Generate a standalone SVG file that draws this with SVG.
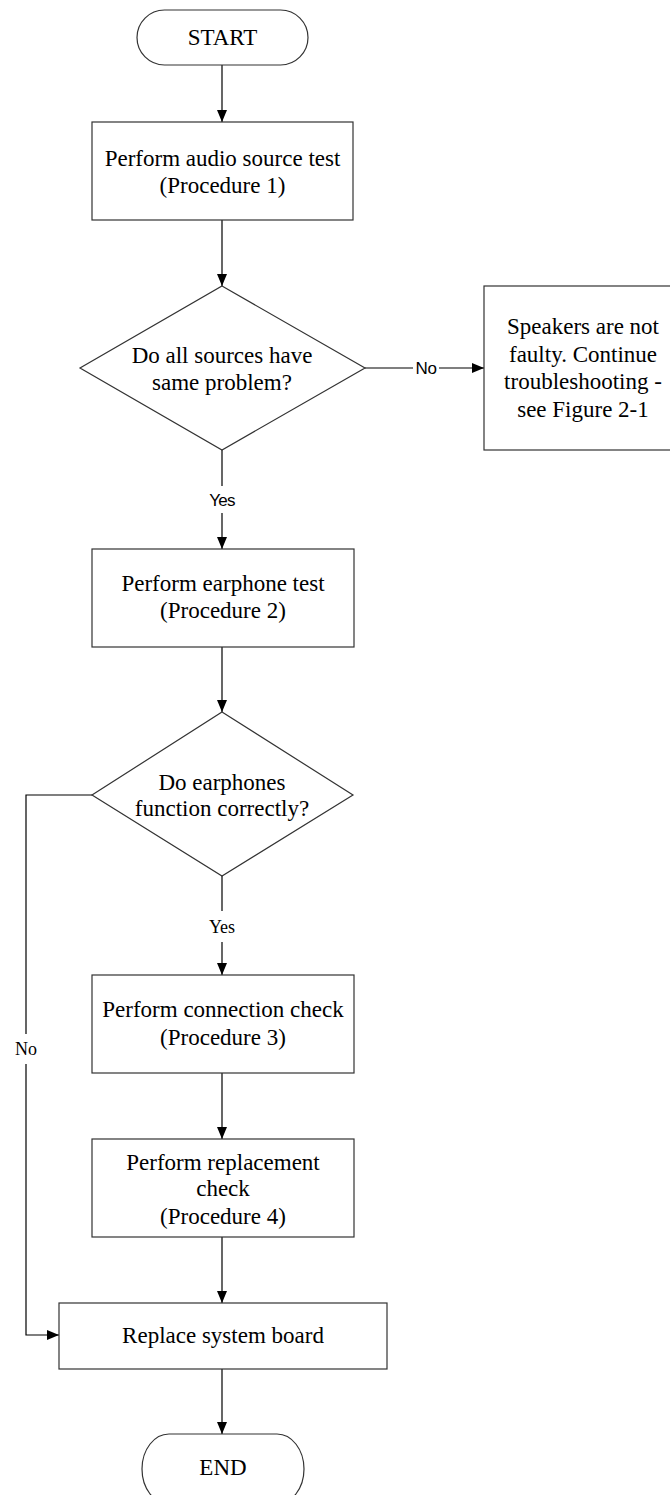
<svg xmlns="http://www.w3.org/2000/svg" width="670" height="1495" viewBox="0 0 670 1495">
  <style>
    .shape { fill: #ffffff; stroke: #333333; stroke-width: 1.2; }
    .conn { fill: none; stroke: #000000; stroke-width: 1.2; }
    .t { font-family: "Liberation Serif", "Times New Roman", serif; font-size: 23px; fill: #000000; text-anchor: middle; }
    .ls { font-family: "Liberation Sans", Arial, sans-serif; font-size: 17px; fill: #000000; text-anchor: middle; letter-spacing: -0.8px; }
    .ln { font-family: "Liberation Sans", Arial, sans-serif; font-size: 17px; fill: #000000; text-anchor: middle; letter-spacing: -0.3px; }
    .lr { font-family: "Liberation Serif", "Times New Roman", serif; font-size: 18px; fill: #000000; text-anchor: middle; }
    .bg { fill: #ffffff; stroke: none; }
  </style>
  <defs>
    <marker id="arrow" markerUnits="userSpaceOnUse" markerWidth="12" markerHeight="10" refX="12" refY="5" orient="auto">
      <path d="M0,0 L12,5 L0,10 z" fill="#000000"/>
    </marker>
  </defs>
  <rect width="670" height="1495" fill="#ffffff"/>

  <g id="connectors">
    <path class="conn" d="M222,65 L222,122" marker-end="url(#arrow)"/>
    <path class="conn" d="M222,220 L222,286" marker-end="url(#arrow)"/>
    <path class="conn" d="M365,368 L484,368" marker-end="url(#arrow)"/>
    <path class="conn" d="M222,450 L222,549" marker-end="url(#arrow)"/>
    <path class="conn" d="M222,647 L222,712" marker-end="url(#arrow)"/>
    <path class="conn" d="M222,876 L222,975" marker-end="url(#arrow)"/>
    <path class="conn" d="M92,795 L26,795 L26,1335 L59,1335" marker-end="url(#arrow)"/>
    <path class="conn" d="M222,1073 L222,1139" marker-end="url(#arrow)"/>
    <path class="conn" d="M222,1237 L222,1303" marker-end="url(#arrow)"/>
    <path class="conn" d="M222,1369 L222,1434" marker-end="url(#arrow)"/>
    <g id="labels">
      <rect class="bg" x="413" y="358" width="26" height="20"/>
      <text class="ln" x="426" y="374">No</text>
      <rect class="bg" x="206" y="486" width="32" height="27"/>
      <text class="ls" x="222" y="506">Yes</text>
      <rect class="bg" x="206" y="911" width="32" height="31"/>
      <text class="lr" x="222" y="933">Yes</text>
      <rect class="bg" x="12" y="1034" width="28" height="30"/>
      <text class="lr" x="26" y="1055">No</text>
    </g>
  </g>

  <g id="start">
    <rect class="shape" x="137" y="10" width="171" height="55" rx="27.5" ry="27.5"/>
    <text class="t" x="222.5" y="45">START</text>
  </g>

  <g id="audio-source-test">
    <rect class="shape" x="92" y="122" width="261" height="98"/>
    <text class="t" x="222.5" y="166">Perform audio source test</text>
    <text class="t" x="222.5" y="193">(Procedure 1)</text>
  </g>

  <g id="all-sources-decision">
    <polygon class="shape" points="222,286 365,368 222,450 80,368"/>
    <text class="t" x="222" y="363">Do all sources have</text>
    <text class="t" x="222" y="390">same problem?</text>
  </g>

  <g id="speakers-not-faulty">
    <rect class="shape" x="484" y="286" width="198" height="164"/>
    <text class="t" x="583" y="334">Speakers are not</text>
    <text class="t" x="583" y="362">faulty. Continue</text>
    <text class="t" x="583" y="389">troubleshooting -</text>
    <text class="t" x="583" y="417">see Figure 2-1</text>
  </g>

  <g id="earphone-test">
    <rect class="shape" x="92" y="549" width="262" height="98"/>
    <text class="t" x="223" y="591">Perform earphone test</text>
    <text class="t" x="223" y="618">(Procedure 2)</text>
  </g>

  <g id="earphones-decision">
    <polygon class="shape" points="222,712 353,795 222,876 92,795"/>
    <text class="t" x="222" y="790">Do earphones</text>
    <text class="t" x="222" y="816">function correctly?</text>
  </g>

  <g id="connection-check">
    <rect class="shape" x="92" y="975" width="262" height="98"/>
    <text class="t" x="223" y="1017">Perform connection check</text>
    <text class="t" x="223" y="1045">(Procedure 3)</text>
  </g>

  <g id="replacement-check">
    <rect class="shape" x="92" y="1139" width="262" height="98"/>
    <text class="t" x="223" y="1170">Perform replacement</text>
    <text class="t" x="223" y="1196">check</text>
    <text class="t" x="223" y="1224">(Procedure 4)</text>
  </g>

  <g id="replace-system-board">
    <rect class="shape" x="59" y="1303" width="328" height="66"/>
    <text class="t" x="223" y="1343">Replace system board</text>
  </g>

  <g id="end">
    <rect class="shape" x="142" y="1434" width="162" height="70" rx="27" ry="35"/>
    <text class="t" x="223" y="1475">END</text>
  </g>
</svg>
